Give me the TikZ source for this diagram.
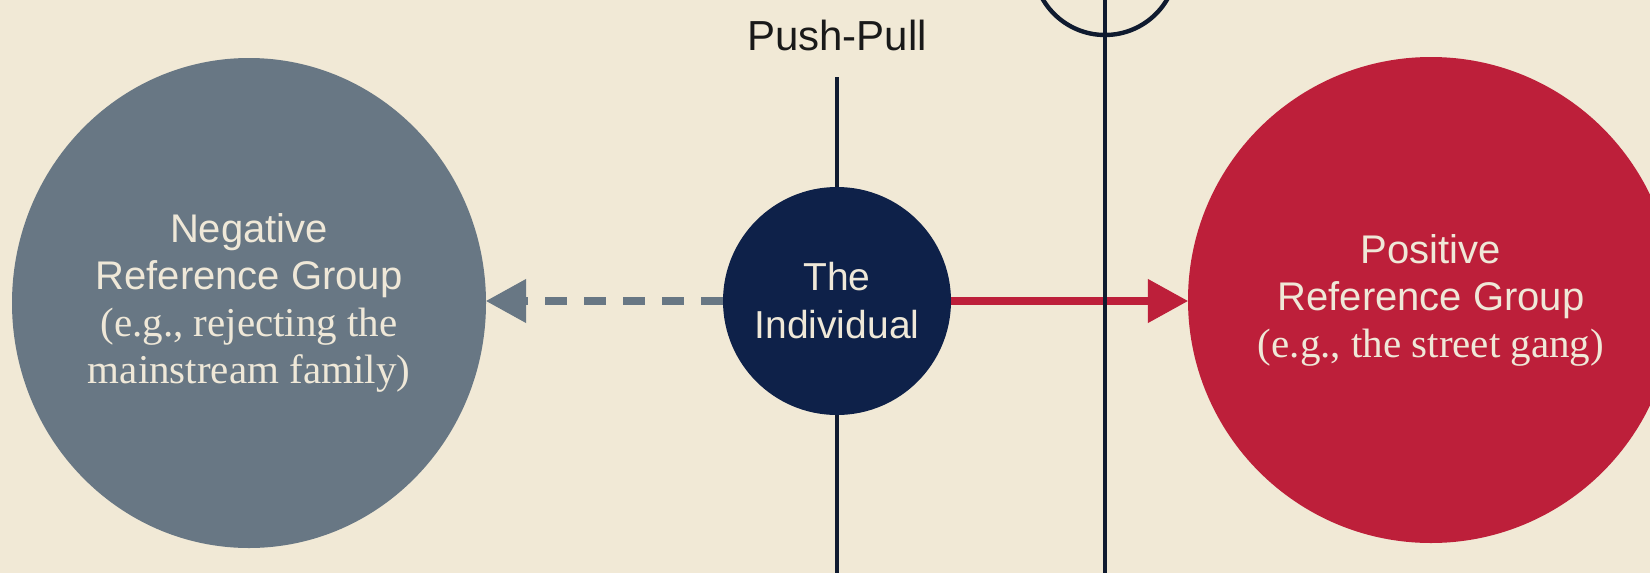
\documentclass[tikz,border=0pt]{standalone}
\usepackage{fontspec}
\setmainfont{Liberation Serif}
\setsansfont{Liberation Sans}
\usetikzlibrary{arrows.meta,shapes.geometric}
\definecolor{bg}{HTML}{F1E9D6}
\definecolor{slate}{HTML}{687784}
\definecolor{grpred}{HTML}{BD1F3A}
\definecolor{navy}{HTML}{0E2149}
\definecolor{ink}{HTML}{101B30}
\definecolor{cream}{HTML}{EFE8D8}
\begin{document}
\begin{tikzpicture}[x=1pt,y=1pt,
  grp/.style={inner sep=0pt, text=cream, align=center},
  vline/.style={draw=ink, line width=4.4pt},
  sanslab/.style={font=\sffamily\fontsize{40}{47}\selectfont},
  headtip/.style={-{Triangle[length=40pt,width=44pt,line width=1pt]}},
  dasharrow/.style={draw=slate, line width=8pt, dash pattern=on 22pt off 17pt, headtip},
  redarrow/.style={draw=grpred, line width=8pt, headtip}]
\useasboundingbox (0,0) rectangle (1650,-573);
\fill[bg] (0,0) rectangle (1650,-573);
\clip (0,0) rectangle (1650,-573);

\node[grp, ellipse, fill=slate, minimum width=474pt, minimum height=490pt, sanslab] (neg) at (249,-303)
  {Negative\\Reference Group\\
   {\rmfamily\fontsize{41}{47}\selectfont (e.g., rejecting the}\\
   {\rmfamily\fontsize{41}{47}\selectfont mainstream family)}};

\node[grp, circle, fill=grpred, minimum size=486pt, sanslab] (pos) at (1431,-300)
  {Positive\\Reference Group\\
   {\rmfamily\fontsize{41}{47}\selectfont (e.g., the street gang)}};

\node[grp, circle, fill=navy, minimum size=228pt,
  font=\sffamily\fontsize{39}{48}\selectfont] (ind) at (837,-301)
  {The\\Individual};

\node[font=\sffamily\fontsize{42}{48}\selectfont, text=black!90, anchor=base] (pp) at (837,-50) {Push-Pull};

\coordinate (top1) at (837,-77);
\coordinate (bot1) at (837,-573);
\draw[vline] (top1) -- (ind.north);
\draw[vline] (ind.south) -- (bot1);

\draw[dasharrow] (ind.west) -- (ind.west -| neg.east);
\draw[redarrow] (ind.east) -- (ind.east -| pos.west);

\node[circle, draw=ink, line width=4.4pt, minimum size=144pt, inner sep=0pt] (ring) at (1105,37) {};
\coordinate (bot2) at (1105,-573);
\draw[vline] (ring.north) -- (bot2);
\end{tikzpicture}
\end{document}
